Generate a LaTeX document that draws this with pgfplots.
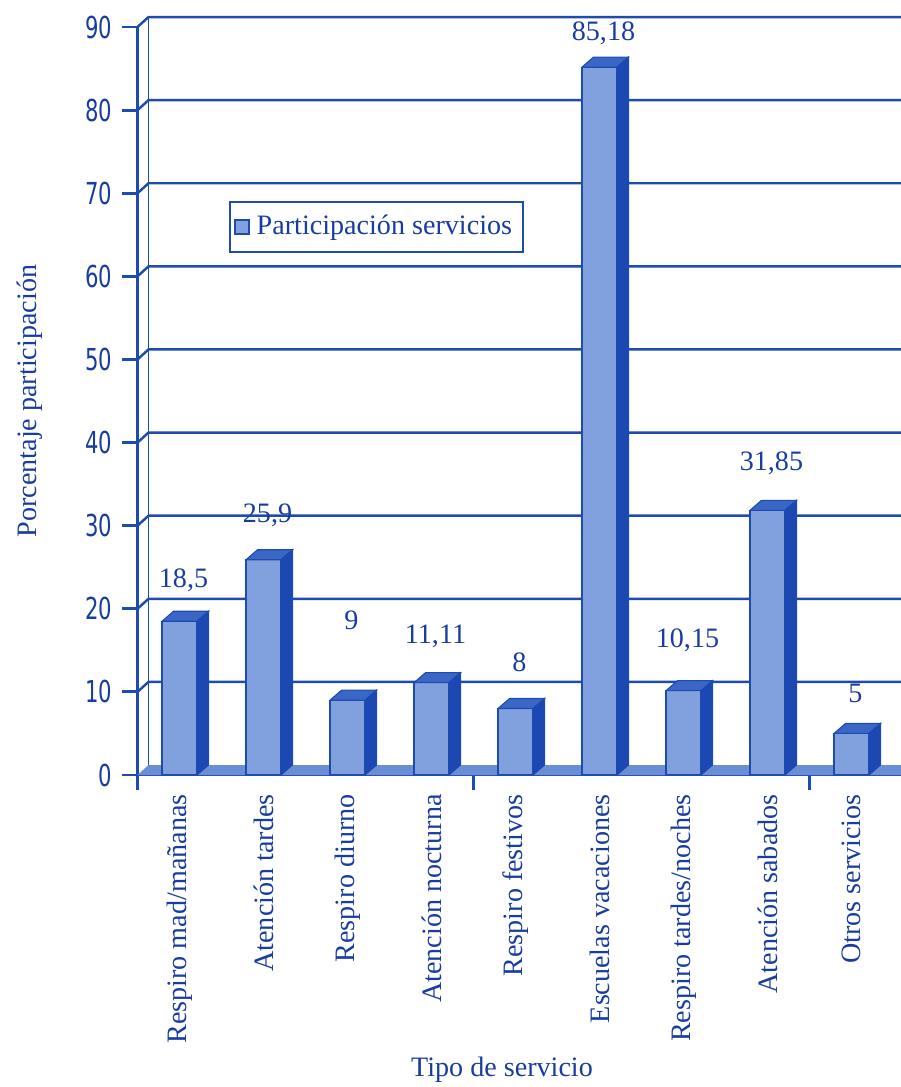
\documentclass[border=0pt]{standalone}
\usepackage{fontspec}
\setmainfont{Liberation Serif}
\newfontfamily\ticksf{DejaVu Sans}[FakeStretch=0.7]
\usepackage{pgfplots}
\usepackage{pgfplotstable}
\pgfplotsset{compat=1.18}

\definecolor{lineblue}{RGB}{30,75,175}
\definecolor{textblue}{RGB}{25,60,160}
\definecolor{frontc}{RGB}{128,160,222}
\definecolor{sidec}{RGB}{28,72,180}
\definecolor{topc}{RGB}{58,102,198}
\definecolor{floorc}{RGB}{105,142,214}

% x = category, y = value, ly = height of the value label
\pgfplotstableread{
x  y      ly
0  18.5   23.46
1  25.9   31.28
2  9      18.65
3  11.11  16.72
4  8      13.6
5  85.18  89.28
6  10.15  16.24
7  31.85  37.54
8  5      9.87
}\servicios

% top and side faces of a bar, mark sits on the front top edge
\pgfdeclareplotmark{box3d}{%
  \pgfmathsetlengthmacro{\hh}{\hval*0.8311mm}%
  \pgfsetlinewidth{0.3pt}%
  \pgfsetstrokecolor{lineblue}%
  \pgfpathmoveto{\pgfqpoint{-1.75mm}{0mm}}%
  \pgfpathlineto{\pgfqpoint{1.75mm}{0mm}}%
  \pgfpathlineto{\pgfqpoint{2.9mm}{1mm}}%
  \pgfpathlineto{\pgfqpoint{-0.6mm}{1mm}}%
  \pgfpathclose
  \pgfsetfillcolor{topc}%
  \pgfusepathqfillstroke
  \pgfpathmoveto{\pgfqpoint{1.75mm}{0mm}}%
  \pgfpathlineto{\pgfqpoint{2.9mm}{1mm}}%
  \pgfpathlineto{\pgfpoint{2.9mm}{1mm-\hh}}%
  \pgfpathlineto{\pgfpoint{1.75mm}{-\hh}}%
  \pgfpathclose
  \pgfsetfillcolor{sidec}%
  \pgfusepathqfillstroke
}

\begin{document}
\begin{tikzpicture}
\begin{axis}[
  x=8.4mm, y=0.8311mm,
  xmin=-0.5, xmax=8.7, ymin=0, ymax=90,
  clip=false,
  axis x line*=bottom, axis y line*=left,
  axis line style={lineblue, line width=0.8pt},
  tick style={lineblue, line width=0.8pt},
  tick align=outside,
  major tick length=1.5mm,
  ytick={0,10,...,90},
  xtick={-0.5,3.5,7.5}, xticklabels={},
  extra x ticks={0,...,8},
  extra x tick labels={Respiro mad/mañanas, Atención tardes, Respiro diurno,
    Atención nocturna, Respiro festivos, Escuelas vacaciones,
    Respiro tardes/noches, Atención sabados, Otros servicios},
  extra x tick style={major tick length=0pt,
    xticklabel style={rotate=90, anchor=east, xshift=-0.7mm}},
  xticklabel style={font=\fontsize{8}{9}\selectfont, text=textblue},
  yticklabel style={font=\ticksf\fontsize{8.6}{9}\selectfont, text=textblue,
    xshift=0.2mm},
  /pgf/number format/assume math mode=true,
  xlabel={Tipo de servicio},
  xlabel style={at={(axis description cs:0.4717,0)}, anchor=center,
    yshift=-29.5mm, font=\fontsize{8}{9}\selectfont, text=textblue},
  ylabel={Porcentaje participación},
  ylabel style={at={(axis description cs:0,0.5)}, anchor=center,
    yshift=10.75mm, font=\fontsize{8}{9}\selectfont, text=textblue},
  legend style={at={(axis description cs:0.3093,0.7326)}, anchor=center,
    draw=lineblue, line width=0.6pt, font=\fontsize{8}{9}\selectfont,
    text=textblue, inner xsep=1pt, inner ysep=1.5pt},
]
\coordinate (O) at (axis cs:-0.5,0);
% floor
\fill[floorc] (axis cs:-0.5,0) -- ++(1.1mm,1mm) -- ([yshift=1mm]axis cs:8.7,0)
  -- (axis cs:8.7,0) -- cycle;
% back wall grid
\pgfplotsinvokeforeach{10,20,...,90}{
  \draw[lineblue, line width=0.7pt] (axis cs:-0.5,#1) -- ++(1.1mm,1mm)
    -- ([yshift=1mm]axis cs:8.7,#1);
}
\draw[lineblue, line width=0.5pt] ([shift={(1.1mm,1mm)}]axis cs:-0.5,0)
  -- ([shift={(1.1mm,1mm)}]axis cs:-0.5,90);

\addplot[ybar, bar width=3.5mm, bar shift=0pt, fill=frontc, draw=lineblue,
  line width=0.3pt,
  legend image code/.code={\draw[fill=frontc, draw=lineblue, line width=0.5pt]
    (0mm,-0.7mm) rectangle (1.4mm,0.7mm);}]
  table[x=x, y=y] {\servicios};
\addlegendentry{Participación servicios}

\addplot[forget plot, scatter, only marks, mark=box3d,
  visualization depends on={rawy \as \hval},
  scatter/@pre marker code/.code={}, scatter/@post marker code/.code={}]
  table[x=x, y=y] {\servicios};

\addplot[forget plot, only marks, mark=*, mark size=0pt,
  mark options={draw=none, fill=none},
  point meta=explicit,
  nodes near coords={\pgfmathprintnumber[use comma]{\pgfplotspointmeta}},
  nodes near coords style={anchor=center, xshift=0.4mm,
    font=\fontsize{8}{9}\selectfont, text=textblue}]
  table[x=x, y=ly, meta=y] {\servicios};
\end{axis}
\pgfresetboundingbox
\path[use as bounding box] ([shift={(-13.75mm,-31.2mm)}]O)
  rectangle ([shift={(76.35mm,77.5mm)}]O);
\end{tikzpicture}
\end{document}
